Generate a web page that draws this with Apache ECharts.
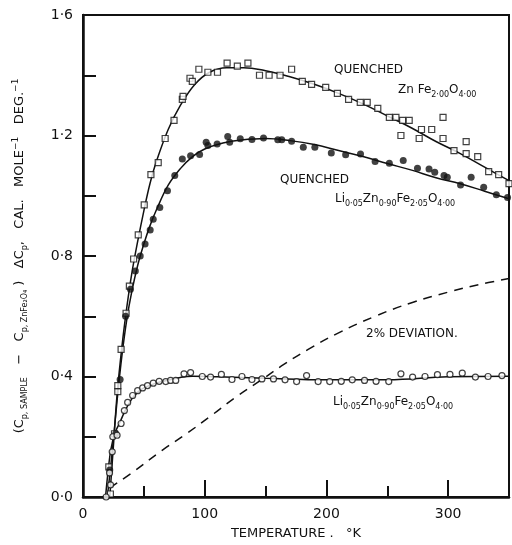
<!DOCTYPE html>
<html>
<head>
<meta charset="utf-8">
<script src="https://cdn.jsdelivr.net/npm/echarts@6/dist/echarts.min.js"></script>
<style>
  html, body { margin: 0; padding: 0; background: #fff; }
  #chart { width: 512px; height: 545px; }
</style>
</head>
<body>
<div id="chart"></div>
<script>
// axis ticks
const xTicks = [0, 100, 200, 300]
const yTicks = [0, 0.4, 0.8, 1.2, 1.6]

// quenched ZnFe2.00O4.00 (open squares)
const zfSquares = [
  [22.5, 0.01], [21.2, 0.1], [25.9, 0.21], [28.6, 0.35], [28.6, 0.37], [31.3, 0.49],
  [35.4, 0.61], [38.1, 0.70], [41.6, 0.79], [45.4, 0.87], [50.3, 0.97], [55.8, 1.07],
  [61.8, 1.11], [67.5, 1.19], [74.8, 1.25], [81.6, 1.32], [82.2, 1.33], [87.9, 1.39],
  [89.8, 1.38], [95.2, 1.42], [102.6, 1.41], [110.5, 1.41], [118.4, 1.44], [126.8, 1.43],
  [135.5, 1.44], [145, 1.40], [152.9, 1.40], [161.9, 1.40], [171.4, 1.42], [180.2, 1.38],
  [187.8, 1.37], [199.4, 1.36], [209, 1.34], [218.2, 1.32], [227.8, 1.31], [233.5, 1.31],
  [242.2, 1.29], [251.7, 1.26], [257.1, 1.26], [262.6, 1.25], [268, 1.25], [261.2, 1.20],
  [276.2, 1.19], [278.1, 1.22], [286.5, 1.22], [295.8, 1.26], [295.8, 1.19], [304.8, 1.15],
  [314.8, 1.18], [314.8, 1.14], [324.3, 1.13], [333.3, 1.08], [341.5, 1.07], [350, 1.04]
]
const zfCurve = [
  [22, 0], [25, 0.17], [28, 0.34], [32, 0.5], [36, 0.63], [40, 0.74], [45, 0.85], [50, 0.95],
  [55, 1.04], [60, 1.11], [70, 1.22], [80, 1.30], [92, 1.37], [104, 1.41], [118, 1.425],
  [132, 1.425], [150, 1.415], [170, 1.395], [190, 1.37], [210, 1.34], [230, 1.305],
  [250, 1.265], [270, 1.225], [290, 1.18], [310, 1.14], [330, 1.095], [350, 1.05]
]

// quenched Li0.05Zn0.90Fe2.05O4.00 (filled circles)
const qliDots = [
  [22, 0.09], [27, 0.21], [30.5, 0.39], [35, 0.6], [39, 0.69], [43, 0.75], [47, 0.80],
  [51, 0.84], [55.2, 0.886], [57.7, 0.922], [63.1, 0.961], [69.4, 1.017], [75.4, 1.067],
  [81.6, 1.122], [88.4, 1.133], [95.8, 1.137], [101.2, 1.178], [102.6, 1.167], [110.2, 1.172],
  [118.9, 1.197], [120.5, 1.178], [129.2, 1.189], [138.8, 1.187], [148.3, 1.192], [160, 1.186],
  [163.3, 1.186], [171.4, 1.181], [181, 1.161], [190.5, 1.161], [204, 1.142], [215.8, 1.136],
  [228, 1.139], [240, 1.114], [251.7, 1.108], [263.1, 1.117], [274.8, 1.091], [284.3, 1.089],
  [289, 1.078], [296.6, 1.067], [299.3, 1.061], [310.2, 1.036], [318.9, 1.061], [329.2, 1.028],
  [339.6, 1.003], [348.8, 0.994]
]
const qliCurve = [
  [20, 0], [24, 0.15], [28, 0.32], [32, 0.47], [36, 0.59], [40, 0.68], [45, 0.77], [50, 0.84],
  [55, 0.9], [60, 0.95], [70, 1.035], [80, 1.09], [90, 1.13], [100, 1.155], [115, 1.175],
  [130, 1.185], [150, 1.19], [170, 1.183], [190, 1.17], [210, 1.15], [230, 1.13],
  [250, 1.107], [270, 1.085], [290, 1.06], [310, 1.04], [330, 1.015], [350, 0.99]
]

// Li0.05Zn0.90Fe2.05O4.00 (open circles)
const liCircles = [
  [19, 0.0], [22.6, 0.04], [21.8, 0.08], [24, 0.15], [24.5, 0.2], [28, 0.205], [31.3, 0.244],
  [34, 0.287], [36.7, 0.314], [40.8, 0.337], [44.9, 0.353], [49, 0.362], [53, 0.37],
  [57.7, 0.378], [62.6, 0.384], [68, 0.383], [72, 0.387], [76.2, 0.387], [83, 0.409],
  [88.4, 0.413], [98, 0.40], [104.8, 0.398], [113.7, 0.407], [122.4, 0.39], [130.6, 0.40],
  [138.8, 0.39], [147, 0.392], [156.5, 0.392], [166, 0.389], [175.5, 0.383], [183.7, 0.403],
  [193.2, 0.383], [202.7, 0.383], [212.2, 0.384], [221.2, 0.389], [231.3, 0.387], [240.8, 0.384],
  [251.2, 0.383], [261.2, 0.409], [270.8, 0.398], [281, 0.40], [291.2, 0.406], [301.5, 0.407],
  [311.6, 0.411], [322.4, 0.398], [332.8, 0.40], [344.2, 0.403]
]
const liCurve = [
  [18.5, 0], [21, 0.1], [23, 0.16], [26, 0.21], [30, 0.245], [35, 0.29], [40, 0.325],
  [45, 0.348], [50, 0.362], [60, 0.378], [70, 0.388], [80, 0.397], [90, 0.401], [110, 0.399],
  [150, 0.394], [200, 0.389], [250, 0.389], [300, 0.399], [350, 0.401]
]

// 2% deviation
const devLine = [
  [22, 0.03], [40, 0.08], [65, 0.155], [85, 0.21], [106, 0.272], [125, 0.33], [147, 0.39],
  [165, 0.44], [185, 0.49], [210, 0.545], [240, 0.6], [270, 0.645], [300, 0.68], [325, 0.705],
  [350, 0.725]
]

const chart = echarts.init(document.getElementById('chart'))

const font = 'DejaVu Sans'
const base = { fontSize: 12, fontFamily: font, color: '#111', verticalAlign: 'middle' }
const sub = { fontSize: 8, fontFamily: font, color: '#111', verticalAlign: 'bottom', padding: [9, 0, 0, 0] }
const sup = { fontSize: 8, fontFamily: font, color: '#111', verticalAlign: 'top', padding: [0, 0, 9, 0] }
const richText = { b: base, s: sub, u: sup }
const nameRich = {
  b: Object.assign({}, base, { fontSize: 13 }),
  s: Object.assign({}, sub, { fontSize: 8 }),
  u: Object.assign({}, sup, { fontSize: 9 })
}

function label(left, top, text) {
  return {
    type: 'text', left: left, top: top,
    style: { text: text, rich: richText, fill: '#111', font: '12px ' + font }
  }
}

const option = {
  animation: false,
  backgroundColor: '#fff',
  grid: { left: 83, right: 3, top: 15, bottom: 48, show: true, borderColor: '#111', borderWidth: 2 },
  xAxis: {
    type: 'value', min: 0, max: 350, interval: 100,
    name: 'TEMPERATURE .   °K',
    nameLocation: 'middle', nameGap: 30,
    nameTextStyle: { fontSize: 13, fontFamily: font, color: '#111' },
    axisLine: { lineStyle: { color: '#111', width: 2.5 } },
    axisTick: { inside: true, length: 17, lineStyle: { color: '#111', width: 2 } },
    minorTick: { show: true, splitNumber: 2, length: 11, lineStyle: { color: '#111', width: 2 } },
    splitLine: { show: false },
    axisLabel: {
      margin: 10, fontSize: 14, fontFamily: font, color: '#111', showMaxLabel: false,
      formatter: v => xTicks.indexOf(v) >= 0 ? String(v) : ''
    }
  },
  yAxis: {
    type: 'value', min: 0, max: 1.6, interval: 0.4,
    name: '{b|(C}{s|p, SAMPLE}{b|   −   C}{s|p, ZnFe₂O₄}{b| )   ΔC}{s|p}{b|,   CAL.   MOLE}{u|−1}{b|   DEG.}{u|−1}',
    nameLocation: 'middle', nameGap: 54, nameRotate: 90,
    nameTextStyle: { rich: nameRich },
    axisLine: { lineStyle: { color: '#111', width: 2.5 } },
    axisTick: { inside: true, length: 13, lineStyle: { color: '#111', width: 2 } },
    minorTick: { show: true, splitNumber: 2, length: 13, lineStyle: { color: '#111', width: 2 } },
    splitLine: { show: false },
    axisLabel: {
      margin: 10, fontSize: 14, fontFamily: font, color: '#111',
      formatter: v => {
        const t = yTicks.find(k => Math.abs(k - v) < 1e-6)
        return t === undefined ? '' : t.toFixed(1).replace('.', '·')
      }
    }
  },
  graphic: [
    label(334, 64, '{b|QUENCHED}'),
    label(398, 84, '{b|Zn Fe}{s|2·00}{b|O}{s|4·00}'),
    label(280, 174, '{b|QUENCHED}'),
    label(335, 193, '{b|Li}{s|0·05}{b|Zn}{s|0·90}{b|Fe}{s|2·05}{b|O}{s|4·00}'),
    label(366, 328, '{b|2% DEVIATION.}'),
    label(333, 396, '{b|Li}{s|0·05}{b|Zn}{s|0·90}{b|Fe}{s|2·05}{b|O}{s|4·00}')
  ],
  series: [
    {
      type: 'line', data: zfCurve, smooth: 0.4, showSymbol: false,
      lineStyle: { color: '#111', width: 1.5 }, z: 2
    },
    {
      type: 'line', data: qliCurve, smooth: 0.4, showSymbol: false,
      lineStyle: { color: '#111', width: 1.5 }, z: 2
    },
    {
      type: 'line', data: liCurve, smooth: 0.4, showSymbol: false,
      lineStyle: { color: '#111', width: 1.5 }, z: 2
    },
    {
      type: 'line', data: devLine, smooth: 0.4, showSymbol: false,
      lineStyle: { color: '#111', width: 1.5, type: [9, 7] }, z: 2
    },
    {
      type: 'scatter', data: zfSquares, symbol: 'rect', symbolSize: 6,
      itemStyle: { color: '#fff', borderColor: '#111', borderWidth: 1.2 }, z: 3
    },
    {
      type: 'scatter', data: qliDots, symbol: 'circle', symbolSize: 7,
      itemStyle: { color: '#111' }, z: 3
    },
    {
      type: 'scatter', data: liCircles, symbol: 'circle', symbolSize: 6,
      itemStyle: { color: '#fff', borderColor: '#111', borderWidth: 1.2 }, z: 3
    }
  ]
}

chart.setOption(option)
</script>
</body>
</html>
